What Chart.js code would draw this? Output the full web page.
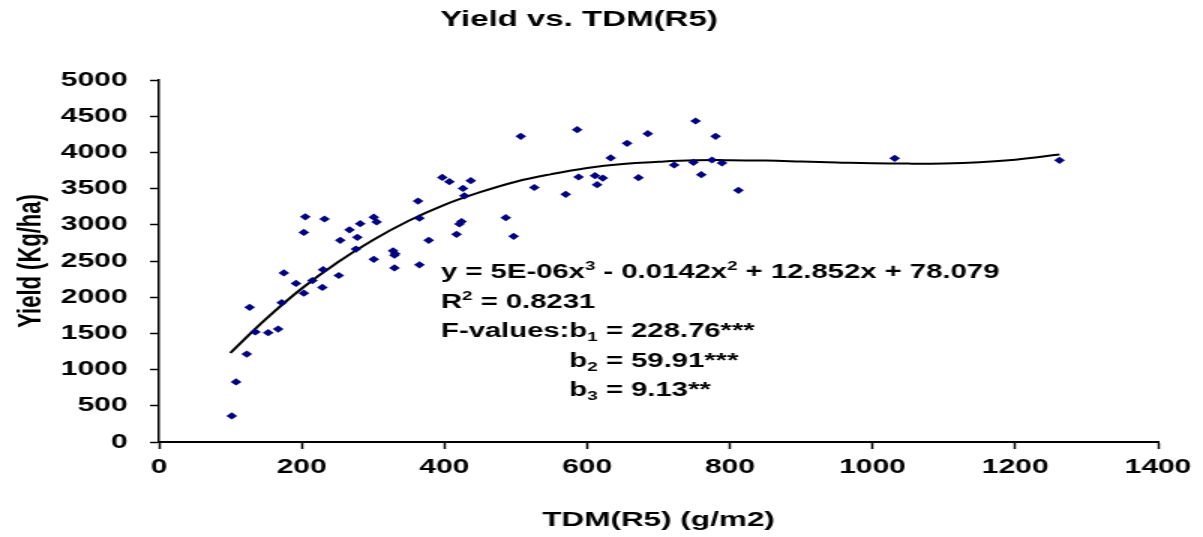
<!DOCTYPE html>
<html>
<head>
<meta charset="utf-8">
<script src="https://cdn.jsdelivr.net/npm/chart.js@4"></script>
<style>
  html, body { margin: 0; padding: 0; background: #fff; overflow: hidden; }
  #myChart { display: block; transform: scaleX(1.5); transform-origin: 0 0; }
</style>
</head>
<body>
<canvas id="myChart" width="802" height="537"></canvas>
<script>
// TDM at R5 (g/m2) and grain yield (Kg/ha) for each plot
const tdm = [102, 108, 123, 127, 135, 153, 167, 172, 175, 192,
             203, 203, 205, 215, 229, 230, 232, 252, 254, 267,
             276, 278, 282, 301, 301, 305, 328, 331, 330, 330,
             363, 365, 365, 378, 397, 407, 417, 421, 424, 426,
             428, 437, 486, 497, 507, 526, 570, 586, 588, 611,
             614, 622, 633, 656, 672, 685, 722, 749, 752, 760,
             775, 780, 789, 812, 1031, 1262];
const yieldKg = [360, 830, 1215, 1860, 1520, 1510, 1560, 1925, 2335, 2190,
                 2055, 2895, 3110, 2230, 2135, 2380, 3080, 2300, 2785, 2930,
                 2665, 2827, 3015, 2523, 3105, 3040, 2640, 2600, 2580, 2405,
                 3328, 3092, 2447, 2786, 3655, 3596, 2868, 3011, 3044, 3503,
                 3400, 3610, 3098, 2841, 4222, 3515, 3421, 4314, 3660, 3678,
                 3554, 3646, 3923, 4125, 3651, 4258, 3826, 3863, 4434, 3692,
                 3895, 4222, 3854, 3476, 3918, 3891];

// cubic trend line
const trendX = [100, 150, 200, 250, 300, 350, 400, 450, 500, 550, 600, 650,
                700, 750, 800, 850, 900, 950, 1000, 1050, 1100, 1150, 1200, 1262];
const trendY = [1230, 1700, 2120, 2480, 2790, 3055, 3275, 3450, 3595, 3700, 3785, 3840,
                3870, 3890, 3893, 3887, 3875, 3862, 3850, 3845, 3848, 3865, 3900, 3970];

const xTicks = [0, 200, 400, 600, 800, 1000, 1200, 1400];
const yTicks = [0, 500, 1000, 1500, 2000, 2500, 3000, 3500, 4000, 4500, 5000];

// regression text block: each line is a list of [text, 'sup'|'sub'|'']
const eqLines = [
    [['y = 5E-06x', ''], ['3', 'sup'], [' - 0.0142x', ''], ['2', 'sup'], [' + 12.852x + 78.079', '']],
    [['R', ''], ['2', 'sup'], [' = 0.8231', '']],
    [['F-values:b', ''], ['1', 'sub'], [' = 228.76***', '']],
    [['b', ''], ['2', 'sub'], [' = 59.91***', '']],
    [['b', ''], ['3', 'sub'], [' = 9.13**', '']]
];

const FONT = '"Liberation Sans", Arial, sans-serif';

function pts(xs, ys) {
    return xs.map((x, i) => ({ x: x, y: ys[i] }));
}

const eqText = {
    id: 'eqText',
    afterDatasetsDraw(chart) {
        const ctx = chart.ctx;
        const area = chart.chartArea;
        const big = 'bold 19.5px ' + FONT;
        const small = 'bold 12.5px ' + FONT;
        ctx.save();
        ctx.fillStyle = '#000';
        ctx.textBaseline = 'alphabetic';
        ctx.textAlign = 'left';
        const x0 = area.left + 188;
        ctx.font = big;
        const indent = ctx.measureText('F-values:').width;
        eqLines.forEach((line, i) => {
            let x = x0 + (i >= 3 ? indent : 0);
            const y = area.top + 198 + i * 29.5;
            line.forEach(([t, kind]) => {
                ctx.font = kind ? small : big;
                const dy = kind === 'sup' ? -8 : (kind === 'sub' ? 4 : 0);
                ctx.fillText(t, x, y + dy);
                x += ctx.measureText(t).width;
            });
        });
        ctx.restore();
    }
};

const ctx = document.getElementById('myChart').getContext('2d');

const myChart = new Chart(ctx, {
    type: 'scatter',
    data: {
        datasets: [
            {
                label: 'Yield',
                data: pts(tdm, yieldKg),
                pointStyle: 'rectRot',
                pointRadius: 3.6,
                backgroundColor: '#000080',
                borderColor: '#000080',
                borderWidth: 0
            },
            {
                label: 'Poly. (Yield)',
                data: pts(trendX, trendY),
                showLine: true,
                pointRadius: 0,
                borderColor: '#000',
                borderWidth: 2,
                tension: 0.4,
                fill: false
            }
        ]
    },
    options: {
        responsive: false,
        animation: false,
        devicePixelRatio: 1,
        layout: { padding: { left: 0, right: 30, top: 0, bottom: 0 } },
        plugins: {
            legend: { display: false },
            tooltip: { enabled: false },
            title: {
                display: true,
                text: 'Yield vs. TDM(R5)',
                color: '#000',
                font: { family: FONT, size: 22, weight: 'bold' },
                padding: { top: 7, bottom: 46.6 }
            }
        },
        scales: {
            x: {
                type: 'linear',
                min: 0,
                max: 1400,
                afterBuildTicks: (scale) => { scale.ticks = xTicks.map(v => ({ value: v })); },
                afterFit: (scale) => { scale.height = 95; },
                border: { display: true, color: '#000', width: 2 },
                grid: { drawOnChartArea: false, drawTicks: true, tickLength: 7, tickColor: '#000', tickWidth: 1.5 },
                ticks: {
                    color: '#000', padding: 6, maxRotation: 0,
                    callback: (v) => String(v),
                    font: { family: FONT, size: 20, weight: 'bold' }
                },
                title: {
                    display: true,
                    text: 'TDM(R5) (g/m2)',
                    color: '#000',
                    font: { family: FONT, size: 21, weight: 'bold' },
                    padding: { top: 0, bottom: 4 }
                }
            },
            y: {
                type: 'linear',
                min: 0,
                max: 5000,
                afterBuildTicks: (scale) => { scale.ticks = yTicks.map(v => ({ value: v })); },
                afterFit: (scale) => { scale.width = 106; },
                border: { display: true, color: '#000', width: 1.5 },
                grid: { drawOnChartArea: false, drawTicks: true, tickLength: 6, tickColor: '#000', tickWidth: 1.5 },
                ticks: {
                    color: '#000', padding: 15,
                    callback: (v) => String(v),
                    font: { family: FONT, size: 20, weight: 'bold' }
                },
                title: {
                    display: true,
                    text: 'Yield (Kg/ha)',
                    color: '#000',
                    font: { family: FONT, size: 22, weight: 'bold' },
                    padding: { top: 8, bottom: 0 }
                }
            }
        }
    },
    plugins: [eqText]
});
</script>
</body>
</html>
